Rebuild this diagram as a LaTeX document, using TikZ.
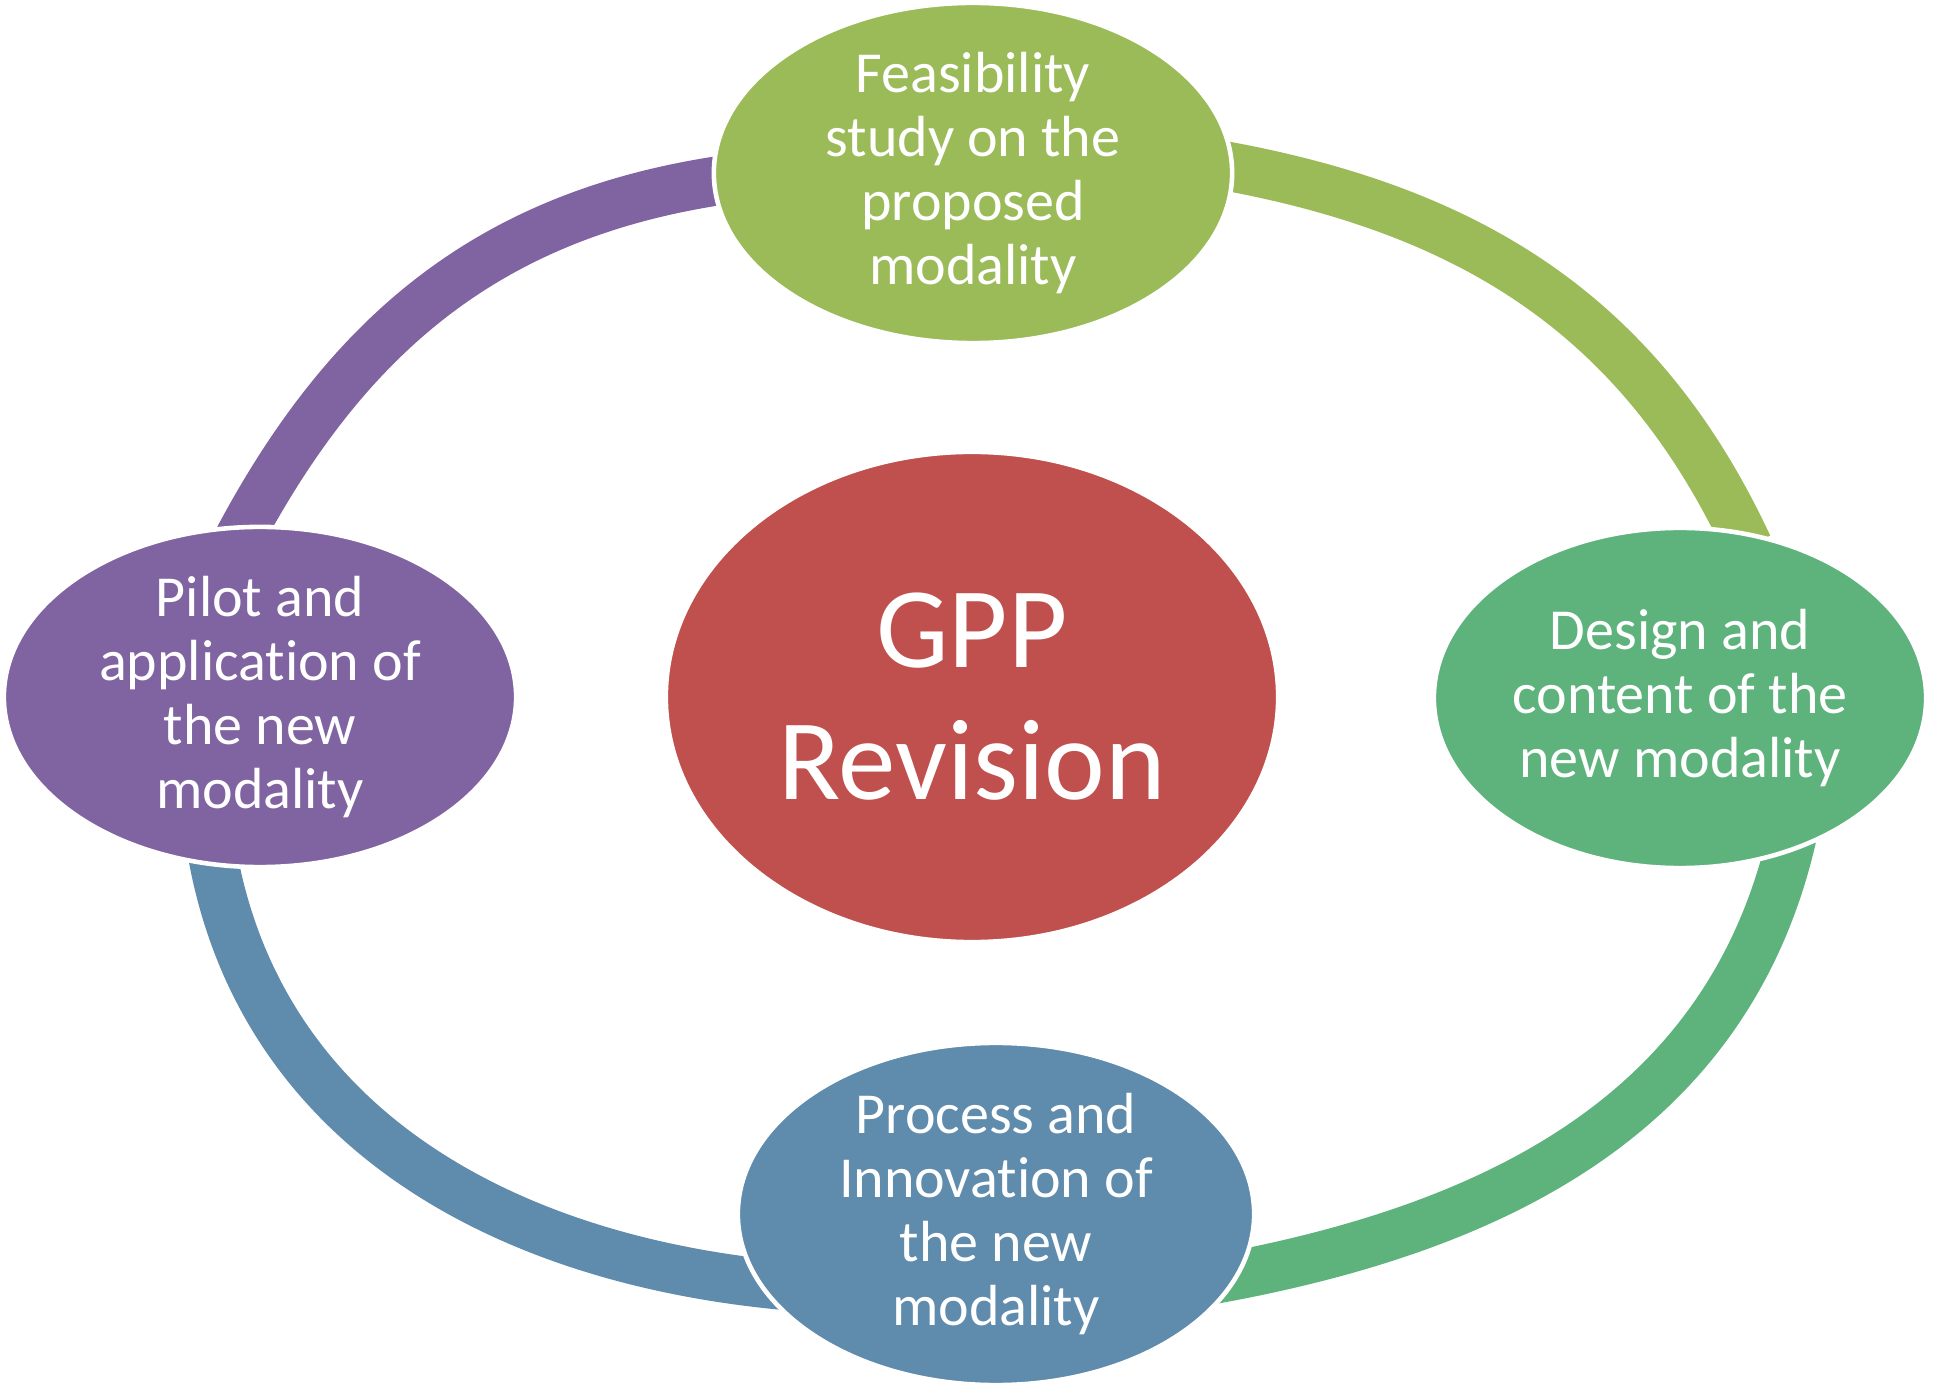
\documentclass[tikz,border=0pt]{standalone}
\usepackage{fontspec}
\setmainfont{Carlito}[RawFeature={-liga;-clig;-dlig;-calt}]
\usetikzlibrary{shapes.geometric}

\definecolor{feasgreen}{HTML}{9BBB59}
\definecolor{gppred}{HTML}{C0504D}
\definecolor{designgreen}{HTML}{5EB37D}
\definecolor{processblue}{HTML}{5F8BAC}
\definecolor{pilotpurple}{HTML}{8064A2}

\begin{document}
\begin{tikzpicture}[x=0.01cm,y=0.01cm,
  stage/.style={ellipse, draw=white, line width=1.3pt, inner sep=0pt},
  stagetext/.style={text=white, align=center, font=\fontsize{16.5}{18.2}\selectfont},
  band/.style={line width=0.49cm}]
\useasboundingbox (0,0) rectangle (1935,1390);

% the four arcs, ends tucked under the ellipses
\coordinate (a1) at (1215,1226);
\coordinate (a2) at (1748,844);
\coordinate (b1) at (1792,553);
\coordinate (b2) at (1205,109);
\coordinate (c1) at (790,104);
\coordinate (c2) at (212,538);
\coordinate (d1) at (238,850);
\coordinate (d2) at (730,1211);

\draw[band, feasgreen] (a1) to[out=-10,in=115] (a2);
\draw[band, designgreen] (b1) to[out=-103,in=10] (b2);
\draw[band, processblue] (c1) to[out=175,in=-80] (c2);
\draw[band, pilotpurple] (d1) to[out=62,in=188] (d2);

% the ellipses
\node (gpp) at (972,693) [stage, fill=gppred, minimum width=6.12cm, minimum height=4.90cm,
  label={[text=white, align=center, font=\fontsize{32.7}{37.5}\selectfont]center:GPP\\Revision}] {};
\node (feas) at (973,1217) [stage, fill=feasgreen, minimum width=5.18cm, minimum height=3.40cm,
  label={[stagetext]center:Feasibility\\study on the\\proposed\\modality}] {};
\node (design) at (1680,692) [stage, fill=designgreen, minimum width=4.92cm, minimum height=3.40cm,
  label={[stagetext]center:Design and\\content of the\\new modality}] {};
\node (process) at (996,176) [stage, fill=processblue, minimum width=5.16cm, minimum height=3.42cm,
  label={[stagetext]center:Process and\\Innovation of\\the new\\modality}] {};
\node (pilot) at (260,693) [stage, fill=pilotpurple, minimum width=5.12cm, minimum height=3.40cm,
  label={[stagetext]center:Pilot and\\applicat\kern0pt ion of\\the new\\modality}] {};
\end{tikzpicture}
\end{document}
